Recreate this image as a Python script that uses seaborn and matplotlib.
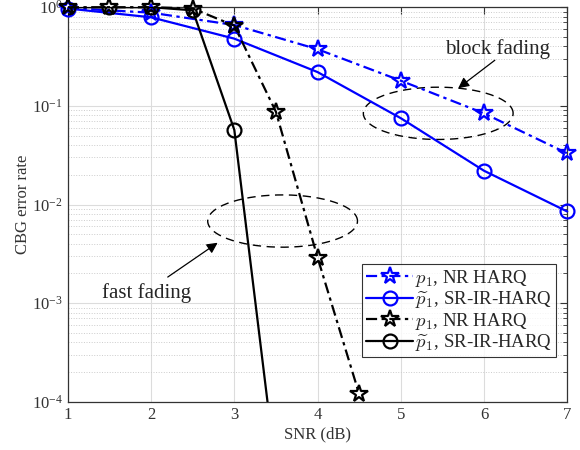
import numpy as np
import pandas as pd
import matplotlib
matplotlib.use("Agg")
import matplotlib.pyplot as plt
import seaborn as sns

# ---- data ----
snr_block = [1, 2, 3, 4, 5, 6, 7]
block_nr = [0.98, 0.88, 0.66, 0.375, 0.18, 0.084, 0.033]
block_sr = [0.97, 0.79, 0.48, 0.22, 0.075, 0.022, 0.0085]

snr_fast_nr = [1, 1.5, 2, 2.5, 3, 3.5, 4, 4.5]
fast_nr = [1.0, 1.0, 1.0, 0.97, 0.65, 0.087, 0.0029, 0.00012]
snr_fast_sr = [1, 1.5, 2, 2.5, 3, 3.5]
fast_sr = [1.0, 1.0, 1.0, 0.93, 0.057, 0.00002]

labels = [r"$p_1$, NR HARQ", r"$\widetilde{p}_1$, SR-IR-HARQ",
          r"$p_1$, NR HARQ", r"$\widetilde{p}_1$, SR-IR-HARQ"]
xticks = [1, 2, 3, 4, 5, 6, 7]

sns.set_style("white")
plt.rcParams["font.family"] = ["Liberation Serif", "DejaVu Serif"]
plt.rcParams["mathtext.fontset"] = "cm"

fig = plt.figure(figsize=(5.8, 4.5), dpi=100)
ax = fig.add_axes([0.117, 0.107, 0.861, 0.877])

dashdot = (0, (5, 2, 1.5, 2))
series = [
    (snr_block, block_nr, "blue", "*", dashdot, labels[0], 13, False),
    (snr_block, block_sr, "blue", "o", "-", labels[1], 10, False),
    (snr_fast_nr, fast_nr, "black", "*", dashdot, labels[2], 13, False),
    (snr_fast_sr, fast_sr, "black", "o", "-", labels[3], 10, True),
]
for xs, ys, c, m, ls, lab, ms, clip in series:
    df = pd.DataFrame({"x": xs, "y": ys})
    sns.lineplot(data=df, x="x", y="y", ax=ax, color=c, marker=m,
                 linestyle=ls, markersize=ms, markerfacecolor="none",
                 markeredgecolor=c, markeredgewidth=1.6, linewidth=1.6,
                 label=lab, clip_on=clip, zorder=3)

ax.set_yscale("log")
ax.set_xlim(1, 7)
ax.set_ylim(1e-4, 1)
ax.set_xticks(xticks)
ax.grid(True, which="major", color="#dcdcdc", linewidth=0.8)
ax.grid(True, which="minor", color="#cccccc", linestyle=":", linewidth=0.7)
ax.tick_params(which="both", direction="in", top=True, right=True,
               labelsize=12, colors="#333333")
ax.tick_params(which="major", length=5)
ax.tick_params(which="minor", length=3)
for s in ax.spines.values():
    s.set_color("#333333")
    s.set_linewidth(0.9)
ax.set_xlabel("SNR (dB)", fontsize=12, color="#333333", labelpad=3)
ax.set_ylabel("CBG error rate", fontsize=12, color="#333333", labelpad=1)

# ellipses (in x / log10 y space)
def ellipse(cx, cy, w, h):
    t = np.linspace(0, 2 * np.pi, 200)
    xs = cx + w / 2 * np.cos(t)
    ly = np.log10(cy) + h / 2 * np.sin(t)
    ax.plot(xs, 10 ** ly, color="black", linestyle=(0, (6, 4)), linewidth=1.0)

ellipse(5.45, 0.084, 1.8, 0.53)
ellipse(3.58, 0.0068, 1.8, 0.53)

ax.text(6.16, 0.375, "block fading", fontsize=15, ha="center", va="center")
ax.annotate("", xy=(5.69, 0.151), xytext=(6.13, 0.29),
            arrowprops=dict(arrowstyle="-|>", color="black", lw=0.9,
                            mutation_scale=16, shrinkA=0, shrinkB=0))
ax.text(1.95, 0.00126, "fast fading", fontsize=15, ha="center", va="center")
ax.annotate("", xy=(2.80, 0.0041), xytext=(2.2, 0.00184),
            arrowprops=dict(arrowstyle="-|>", color="black", lw=0.9,
                            mutation_scale=16, shrinkA=0, shrinkB=0))

leg = ax.legend(loc="lower right", bbox_to_anchor=(0.977, 0.114),
                fontsize=13.5, frameon=True, fancybox=False, borderpad=0.2,
                labelspacing=0.02, handlelength=2.5, handletextpad=0.1,
                borderaxespad=0)
leg.get_frame().set_edgecolor("black")
leg.get_frame().set_linewidth(0.8)

fig.savefig("out.png", dpi=100)
